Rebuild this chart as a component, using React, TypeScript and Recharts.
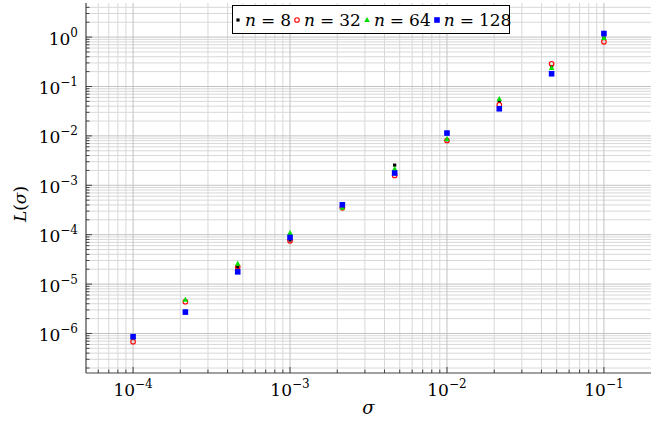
import React from 'react';
import { ScatterChart, Scatter, XAxis, YAxis, ReferenceLine, Legend } from 'recharts';

const FONT = "DejaVu Serif";
const MATH_FONT = "DejaVu Serif";

// sigma values (log-spaced sample points)
const sigmaValues = [1e-4, 2.154e-4, 4.642e-4, 1e-3, 2.154e-3, 4.642e-3, 1e-2, 2.154e-2, 4.642e-2, 1e-1];
// L(sigma) per n
const lossN8 = [8.0e-7, 2.8e-6, 2.2e-5, 7.8e-5, 3.7e-4, 2.56e-3, 8.4e-3, 4.97e-2, 0.254, 0.97];
const lossN32 = [6.8e-7, 4.4e-6, 2.21e-5, 7.5e-5, 3.5e-4, 1.58e-3, 8.07e-3, 4.26e-2, 0.288, 0.8];
const lossN64 = [8.4e-7, 4.8e-6, 2.58e-5, 1.08e-4, 3.5e-4, 2.13e-3, 8.6e-3, 5.56e-2, 0.236, 0.955];
const lossN128 = [8.6e-7, 2.71e-6, 1.77e-5, 8.8e-5, 4.03e-4, 1.77e-3, 1.14e-2, 3.54e-2, 0.181, 1.18];

const xMajorTicks = [1e-4, 1e-3, 1e-2, 1e-1];
const xTickExponents = ['−4', '−3', '−2', '−1'];
const yMajorTicks = [1e-6, 1e-5, 1e-4, 1e-3, 1e-2, 1e-1, 1];
const yTickExponents = ['−6', '−5', '−4', '−3', '−2', '−1', '0'];
const legendLabels = ['8', '32', '64', '128'];

const X_DOMAIN = [Math.pow(10, -4.3), Math.pow(10, -0.7)];
const Y_DOMAIN = [Math.pow(10, -6.8), Math.pow(10, 0.69)];

function minorTicks(domain: number[]) {
  const out: number[] = [];
  const start = Math.floor(Math.log10(domain[0]));
  const end = Math.ceil(Math.log10(domain[1]));
  for (let e = start; e <= end; e++) {
    for (let m = 2; m <= 9; m++) {
      const v = m * Math.pow(10, e);
      if (v > domain[0] && v < domain[1]) out.push(v);
    }
  }
  return out;
}

const xMinor = minorTicks(X_DOMAIN);
const yMinor = minorTicks(Y_DOMAIN);
const xAll = [...xMajorTicks, ...xMinor].sort((a, b) => a - b);
const yAll = [...yMajorTicks, ...yMinor].sort((a, b) => a - b);

const toPoints = (ys: number[]) => sigmaValues.map((x, i) => ({ x, y: ys[i] }));
const dataN8 = toPoints(lossN8);
const dataN32 = toPoints(lossN32);
const dataN64 = toPoints(lossN64);
const dataN128 = toPoints(lossN128);

const TICK_COLOR = '#333';
const AXIS_COLOR = '#444';
const MAJOR_LEN = 6;
const MINOR_LEN = 3.5;

const textStyle = { fontFamily: FONT };

const BottomTick = (p: any) => {
  const { x, y, payload } = p;
  const idx = xMajorTicks.indexOf(payload.value);
  const major = idx >= 0;
  return (
    <g>
      <line x1={x} x2={x} y1={y} y2={y - (major ? MAJOR_LEN : MINOR_LEN)} stroke={TICK_COLOR} strokeWidth={0.9} />
      {major && (
        <text x={x} y={y + 23} textAnchor="middle" style={textStyle} fontSize={17} fill="#000">
          <tspan>10</tspan>
          <tspan dy={-8} fontSize={12}>{xTickExponents[idx]}</tspan>
        </text>
      )}
    </g>
  );
};

const TopTick = (p: any) => {
  const { x, y, payload } = p;
  const major = xMajorTicks.indexOf(payload.value) >= 0;
  return <line x1={x} x2={x} y1={y} y2={y + (major ? MAJOR_LEN : MINOR_LEN)} stroke={TICK_COLOR} strokeWidth={0.9} />;
};

const LeftTick = (p: any) => {
  const { x, y, payload } = p;
  const idx = yMajorTicks.indexOf(payload.value);
  const major = idx >= 0;
  return (
    <g>
      <line x1={x} x2={x + (major ? MAJOR_LEN : MINOR_LEN)} y1={y} y2={y} stroke={TICK_COLOR} strokeWidth={0.9} />
      {major && (
        <text x={x - 8} y={y + 7.5} textAnchor="end" style={textStyle} fontSize={17} fill="#000">
          <tspan>10</tspan>
          <tspan dy={-8} fontSize={12}>{yTickExponents[idx]}</tspan>
        </text>
      )}
    </g>
  );
};

const RightTick = (p: any) => {
  const { x, y, payload } = p;
  const major = yMajorTicks.indexOf(payload.value) >= 0;
  return <line x1={x} x2={x - (major ? MAJOR_LEN : MINOR_LEN)} y1={y} y2={y} stroke={TICK_COLOR} strokeWidth={0.9} />;
};

const BlackMark = (p: any) => <rect x={p.cx - 1.6} y={p.cy - 1.6} width={3.2} height={3.2} fill="#000" />;
const RedMark = (p: any) => <circle cx={p.cx} cy={p.cy} r={2.3} fill="none" stroke="#ff0000" strokeWidth={1.1} />;
const GreenMark = (p: any) => (
  <polygon points={`${p.cx},${p.cy - 3} ${p.cx + 2.8},${p.cy + 2} ${p.cx - 2.8},${p.cy + 2}`} fill="#00e000" />
);
const BlueMark = (p: any) => <rect x={p.cx - 2.8} y={p.cy - 2.8} width={5.6} height={5.6} fill="#0000ff" />;

const legendMarkers = [
  <rect key="a" x={3.4} y={3.4} width={3.2} height={3.2} fill="#000" />,
  <circle key="b" cx={5} cy={5} r={2.3} fill="none" stroke="#ff0000" strokeWidth={1.1} />,
  <polygon key="c" points="5,2 7.8,7 2.2,7" fill="#00e000" />,
  <rect key="d" x={2.2} y={2.2} width={5.6} height={5.6} fill="#0000ff" />,
];

const LegendBox = () => (
  <div
    style={{
      boxSizing: 'border-box',
      width: 278,
      height: 29,
      border: '1px solid #000',
      background: '#fff',
      display: 'flex',
      alignItems: 'center',
      paddingLeft: 0,
      fontFamily: FONT,
      fontSize: 17,
      whiteSpace: 'nowrap',
      color: '#000',
    }}
  >
    {legendLabels.map((lab, i) => (
      <span key={lab} style={{ display: 'inline-flex', alignItems: 'center', marginLeft: i === 0 ? 0 : 1 }}>
        <svg width={10} height={10} style={{ display: 'block' }}>
          {legendMarkers[i]}
        </svg>
        <span style={{ marginLeft: 2, fontStyle: 'italic', fontFamily: MATH_FONT }}>n</span>
        <span style={{ margin: '0 5px' }}>=</span>
        <span>{lab}</span>
      </span>
    ))}
  </div>
);

const XLabel = (props: any) => {
  const vb = props.viewBox || {};
  return (
    <text x={vb.x + vb.width / 2} y={vb.y + 41} textAnchor="middle" style={textStyle} fontSize={18} fontStyle="italic" fill="#000">
      σ
    </text>
  );
};

const YLabel = (props: any) => {
  const vb = props.viewBox || {};
  const cx = vb.x + 20;
  const cy = vb.y + vb.height / 2 + 16;
  return (
    <text
      x={cx}
      y={cy}
      transform={`rotate(-90, ${cx}, ${cy})`}
      textAnchor="middle"
      dominantBaseline="central"
      style={textStyle}
      fontSize={17}
      fill="#000"
    >
      <tspan fontStyle="italic">L</tspan>
      <tspan>(</tspan>
      <tspan fontStyle="italic">σ</tspan>
      <tspan>)</tspan>
    </text>
  );
};

export default function App() {
  return (
    <div style={{ position: 'absolute', left: 0, top: 0, width: 652, height: 426, background: '#fff' }}>
      <ScatterChart width={652} height={426} margin={{ top: 3, right: 1, bottom: 0, left: 0 }}>
        <XAxis
          dataKey="x"
          type="number"
          scale="log"
          domain={X_DOMAIN}
          allowDataOverflow
          ticks={xAll}
          interval={0}
          tickSize={0}
          tickMargin={0}
          tick={<BottomTick />}
          height={53}
          axisLine={{ stroke: AXIS_COLOR, strokeWidth: 1.2 }}
          tickLine={false}
          label={<XLabel />}
        />
        <XAxis
          xAxisId="top"
          orientation="top"
          dataKey="x"
          type="number"
          scale="log"
          domain={X_DOMAIN}
          allowDataOverflow
          ticks={xAll}
          interval={0}
          tickSize={0}
          tickMargin={0}
          tick={<TopTick />}
          height={0}
          axisLine={{ stroke: AXIS_COLOR, strokeWidth: 1.2 }}
          tickLine={false}
        />
        <YAxis
          dataKey="y"
          type="number"
          scale="log"
          domain={Y_DOMAIN}
          allowDataOverflow
          ticks={yAll}
          interval={0}
          tickSize={0}
          tickMargin={0}
          tick={<LeftTick />}
          width={86}
          axisLine={{ stroke: AXIS_COLOR, strokeWidth: 1.2 }}
          tickLine={false}
          label={<YLabel />}
        />
        <YAxis
          yAxisId="right"
          orientation="right"
          dataKey="y"
          type="number"
          scale="log"
          domain={Y_DOMAIN}
          allowDataOverflow
          ticks={yAll}
          interval={0}
          tickSize={0}
          tickMargin={0}
          tick={<RightTick />}
          width={0}
          axisLine={{ stroke: AXIS_COLOR, strokeWidth: 1.2 }}
          tickLine={false}
        />
        {xMinor.map((v) => (
          <ReferenceLine key={'xm' + v} x={v} stroke="#d8d8d8" strokeWidth={1} />
        ))}
        {yMinor.map((v) => (
          <ReferenceLine key={'ym' + v} y={v} stroke="#d8d8d8" strokeWidth={1} />
        ))}
        {xMajorTicks.map((v) => (
          <ReferenceLine key={'xM' + v} x={v} stroke="#c2c2c2" strokeWidth={1} />
        ))}
        {yMajorTicks.map((v) => (
          <ReferenceLine key={'yM' + v} y={v} stroke="#c2c2c2" strokeWidth={1} />
        ))}
        <Legend
          layout="horizontal"
          verticalAlign="middle"
          align="center"
          content={<LegendBox />}
          wrapperStyle={{ left: 232, top: 5, width: 278, height: 29 }}
        />
        <Scatter name="n = 8" data={dataN8} shape={BlackMark} isAnimationActive={false} />
        <Scatter name="n = 32" data={dataN32} shape={RedMark} isAnimationActive={false} />
        <Scatter name="n = 64" data={dataN64} shape={GreenMark} isAnimationActive={false} />
        <Scatter name="n = 128" data={dataN128} shape={BlueMark} isAnimationActive={false} />
      </ScatterChart>
    </div>
  );
}
